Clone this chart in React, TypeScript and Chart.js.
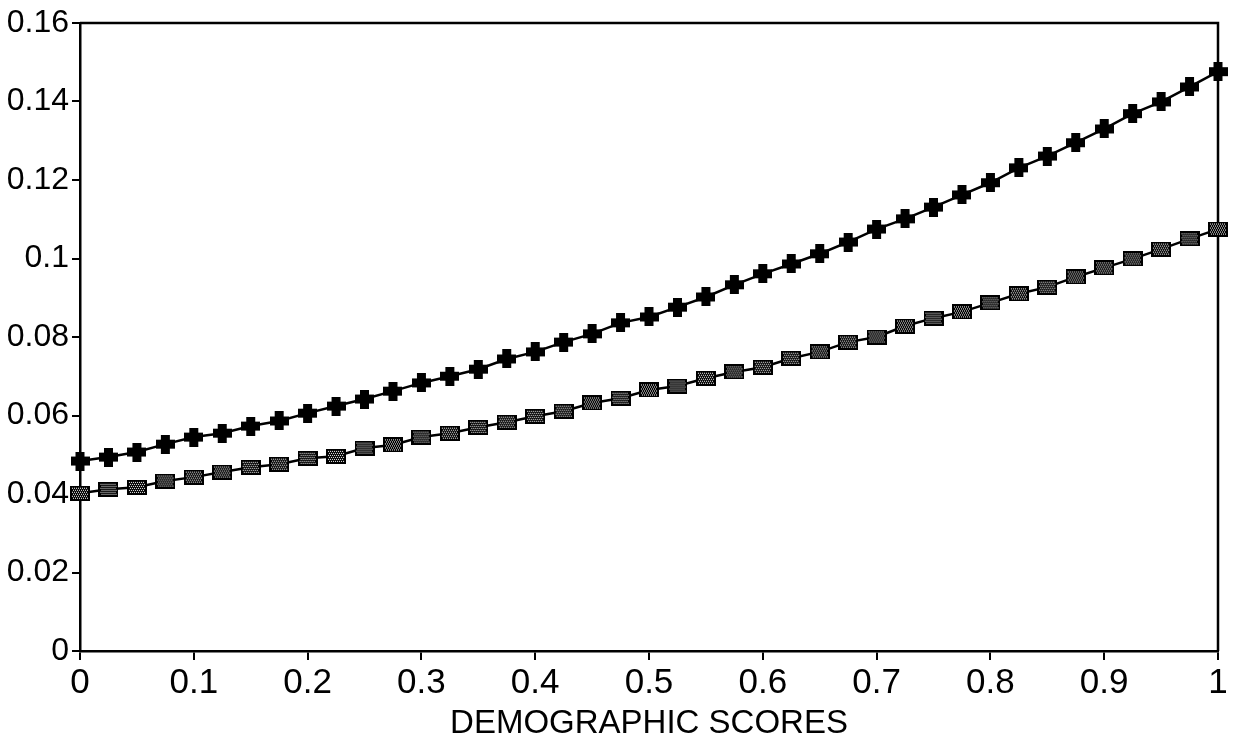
import { useEffect, useRef } from "react";
import { Chart, registerables } from "chart.js";

Chart.register(...registerables);

const scores = [
  0, 0.025, 0.05, 0.075, 0.1, 0.125, 0.15, 0.175, 0.2, 0.225, 0.25, 0.275, 0.3, 0.325,
  0.35, 0.375, 0.4, 0.425, 0.45, 0.475, 0.5, 0.525, 0.55, 0.575, 0.6, 0.625, 0.65,
  0.675, 0.7, 0.725, 0.75, 0.775, 0.8, 0.825, 0.85, 0.875, 0.9, 0.925, 0.95, 0.975, 1,
];

const upperSeries = [
  0.0484, 0.0494, 0.0507, 0.0527, 0.0545, 0.0555, 0.0573, 0.0586, 0.0606, 0.0624,
  0.0642, 0.0662, 0.0683, 0.07, 0.0718, 0.0744, 0.0762, 0.0787, 0.0808, 0.0836,
  0.0851, 0.0876, 0.0902, 0.0933, 0.0961, 0.0986, 0.1012, 0.1042, 0.1075, 0.1101,
  0.1131, 0.1162, 0.1193, 0.1231, 0.1261, 0.1295, 0.133, 0.1369, 0.1399, 0.1437, 0.1476,
];

const lowerSeries = [
  0.0402, 0.0412, 0.0417, 0.0433, 0.0443, 0.0456, 0.0468, 0.0476, 0.0491, 0.0496,
  0.0517, 0.0525, 0.0545, 0.0555, 0.057, 0.0583, 0.0598, 0.0611, 0.0632, 0.0644,
  0.0665, 0.0675, 0.0695, 0.0711, 0.0723, 0.0746, 0.0762, 0.0787, 0.08, 0.0828,
  0.0848, 0.0864, 0.0887, 0.091, 0.0927, 0.0953, 0.0976, 0.0999, 0.1024, 0.105, 0.1075,
];

const xTickLabels = ["0", "0.1", "0.2", "0.3", "0.4", "0.5", "0.6", "0.7", "0.8", "0.9", "1"];
const yTickLabels = ["0", "0.02", "0.04", "0.06", "0.08", "0.1", "0.12", "0.14", "0.16"];
const xTitle = "DEMOGRAPHIC SCORES";

function makePlus(): HTMLCanvasElement {
  const c = document.createElement("canvas");
  c.width = 19;
  c.height = 19;
  const g = c.getContext("2d")!;
  g.fillStyle = "#000";
  g.fillRect(5, 0, 9, 19);
  g.fillRect(0, 5, 19, 9);
  return c;
}

function makeSquare(): HTMLCanvasElement {
  const c = document.createElement("canvas");
  c.width = 20;
  c.height = 15;
  const g = c.getContext("2d")!;
  g.fillStyle = "#000";
  g.fillRect(0, 0, 20, 15);
  g.fillStyle = "#fff";
  for (let y = 2; y < 13; y++) {
    for (let x = 2; x < 18; x++) {
      if (y % 2 === 0 && (x + (y % 4 === 0 ? 1 : 0)) % 2 === 0) g.fillRect(x, y, 1, 1);
    }
  }
  return c;
}

const FONT = "'Liberation Sans', Arial, Helvetica, sans-serif";

export default function App() {
  const ref = useRef<HTMLCanvasElement | null>(null);

  useEffect(() => {
    document.body.style.margin = "0";
    const canvas = ref.current;
    if (!canvas) return;

    const framePlugin = {
      id: "frame",
      beforeDatasetsDraw(chart: any) {
        const { ctx, chartArea } = chart;
        ctx.save();
        ctx.strokeStyle = "#000";
        ctx.lineWidth = 2.5;
        ctx.beginPath();
        ctx.moveTo(chartArea.left, chartArea.top);
        ctx.lineTo(chartArea.right, chartArea.top);
        ctx.lineTo(chartArea.right, chartArea.bottom);
        ctx.stroke();
        ctx.restore();
      },
    };

    const chart = new Chart(canvas, {
      type: "line",
      data: {
        datasets: [
          {
            label: "upper",
            data: scores.map((x, i) => ({ x, y: upperSeries[i] })),
            borderColor: "#000",
            borderWidth: 2.5,
            pointStyle: makePlus(),
            pointRadius: 9,
            tension: 0,
            clip: false,
          },
          {
            label: "lower",
            data: scores.map((x, i) => ({ x, y: lowerSeries[i] })),
            borderColor: "#000",
            borderWidth: 2.5,
            pointStyle: makeSquare(),
            pointRadius: 9,
            tension: 0,
            clip: false,
          },
        ],
      },
      options: {
        responsive: false,
        animation: false,
        events: [],
        layout: { padding: { top: 23, right: 16, left: 0, bottom: 0 } },
        plugins: {
          legend: { display: false },
          tooltip: { enabled: false },
        },
        scales: {
          x: {
            type: "linear",
            min: 0,
            max: 1,
            afterFit: (s: any) => {
              s.height = 94;
            },
            ticks: {
              stepSize: 0.1,
              color: "#000",
              padding: 2,
              font: { family: FONT, size: 35 },
              callback: (v: any) => xTickLabels[Math.round(Number(v) * 10)] ?? "",
              maxRotation: 0,
            },
            grid: {
              drawOnChartArea: false,
              drawTicks: true,
              tickLength: 9,
              color: "#000",
              lineWidth: 2,
            },
            border: { display: true, color: "#000", width: 2.5 },
            title: {
              display: true,
              text: xTitle,
              color: "#000",
              font: { family: FONT, size: 33 },
              padding: { top: 0, bottom: 1 },
            },
          },
          y: {
            type: "linear",
            min: 0,
            max: 0.16,
            afterFit: (s: any) => {
              s.width = 80;
            },
            ticks: {
              stepSize: 0.02,
              color: "#000",
              padding: 3,
              font: { family: FONT, size: 32 },
              callback: (v: any) => yTickLabels[Math.round(Number(v) / 0.02)] ?? "",
            },
            grid: {
              drawOnChartArea: false,
              drawTicks: true,
              tickLength: 8,
              color: "#000",
              lineWidth: 2,
            },
            border: { display: true, color: "#000", width: 2.5 },
          },
        },
      },
      plugins: [framePlugin],
    });

    return () => chart.destroy();
  }, []);

  return (
    <div style={{ width: 1234, height: 745, background: "#fff" }}>
      <canvas ref={ref} width={1234} height={745} style={{ display: "block" }} />
    </div>
  );
}
